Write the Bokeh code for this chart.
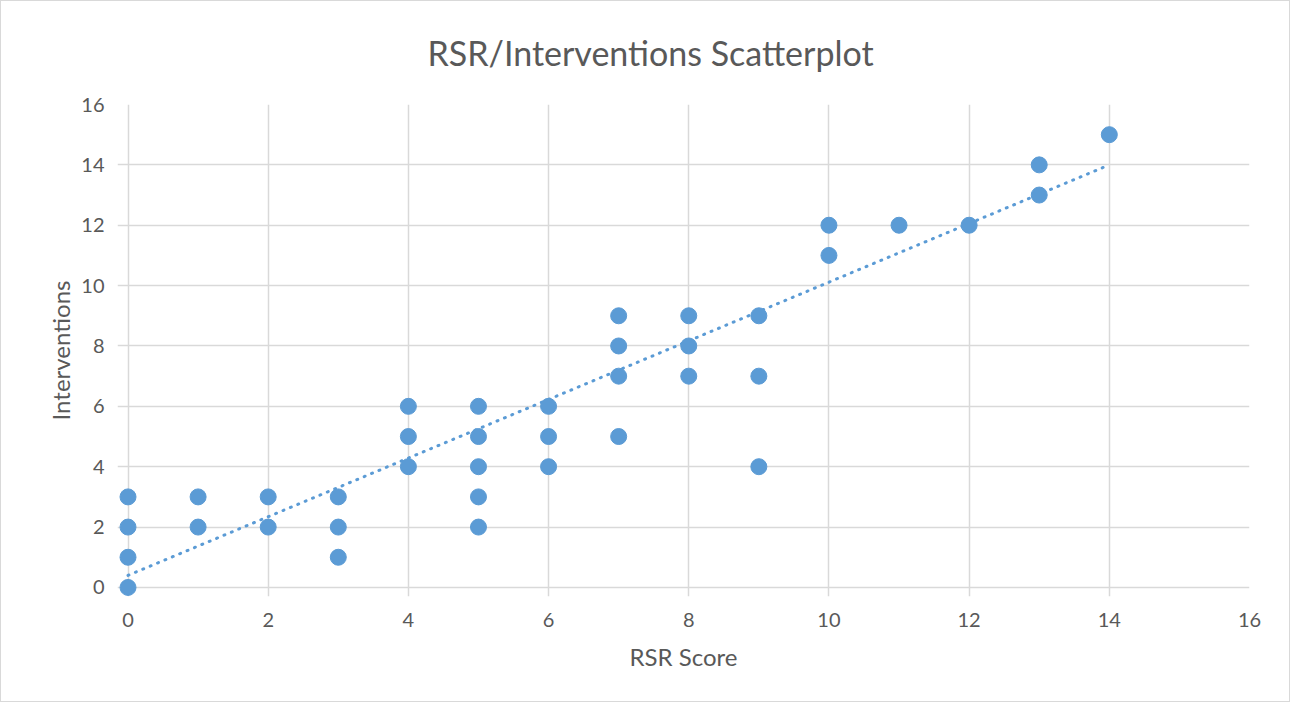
from bokeh.plotting import figure
from bokeh.models import ColumnDataSource, SingleIntervalTicker, Range1d
from bokeh.embed import file_html
from bokeh.resources import INLINE

title_text = "RSR/Interventions Scatterplot"
rsr_score = [0, 0, 0, 0, 1, 1, 2, 2, 3, 3, 3, 4, 4, 4, 5, 5, 5, 5, 5, 6, 6, 6,
             7, 7, 7, 7, 8, 8, 8, 9, 9, 9, 10, 10, 11, 12, 13, 13, 14]
interventions = [0, 1, 2, 3, 2, 3, 2, 3, 1, 2, 3, 4, 5, 6, 2, 3, 4, 5, 6, 4, 5, 6,
                 5, 7, 8, 9, 7, 8, 9, 4, 7, 9, 11, 12, 12, 12, 13, 14, 15]
trend_x = [0, 14]
trend_y = [0.4, 14.0]

TEXT = "#595959"
GRID = "#D9D9D9"
BLUE = "#5B9BD5"
FONT = "Lato"

# small padding below 0 so that markers on the axes are not clipped
p = figure(width=1290, height=702, output_backend="svg", toolbar_location=None,
           x_range=Range1d(-0.15, 16), y_range=Range1d(-0.3, 16),
           min_border_left=116, min_border_right=42, min_border_top=103, min_border_bottom=107,
           title=title_text)
p.styles = {"border": "1px solid #d9d9d9"}

p.title.align = "left"
p.title.offset = 310
p.title.text_font = FONT
p.title.text_font_size = "34px"
p.title.text_font_style = "normal"
p.title.text_color = TEXT
p.title.vertical_align = "top"
p.title.standoff = 60

src = ColumnDataSource(dict(x=rsr_score, y=interventions))
p.line(trend_x, trend_y, line_color=BLUE, line_width=3, line_dash="1 7", line_cap="round")
p.scatter("x", "y", source=src, size=16, fill_color=BLUE, line_color=BLUE)

for ax in (p.xaxis[0], p.yaxis[0]):
    ax.ticker = SingleIntervalTicker(interval=2)
    ax.major_tick_line_color = None
    ax.minor_tick_line_color = None
    ax.axis_line_color = None
    ax.major_label_text_font = FONT
    ax.major_label_text_font_size = "20px"
    ax.major_label_text_color = TEXT
    ax.axis_label_text_font = FONT
    ax.axis_label_text_font_size = "24px"
    ax.axis_label_text_font_style = "normal"
    ax.axis_label_text_color = TEXT

p.xaxis.axis_label = "RSR Score"
p.yaxis.axis_label = "Interventions"
p.xaxis.major_label_standoff = 10
p.yaxis.major_label_standoff = 7
p.xaxis.axis_label_standoff = 12
p.yaxis.axis_label_standoff = 3

p.xgrid.ticker = SingleIntervalTicker(interval=2)
p.ygrid.ticker = SingleIntervalTicker(interval=2)
p.xgrid.bounds = (0, 16)
p.ygrid.bounds = (0, 16)
p.grid.grid_line_color = GRID
p.grid.grid_line_width = 1.5
p.outline_line_color = None

open("out.html", "w").write(file_html(p, INLINE))
